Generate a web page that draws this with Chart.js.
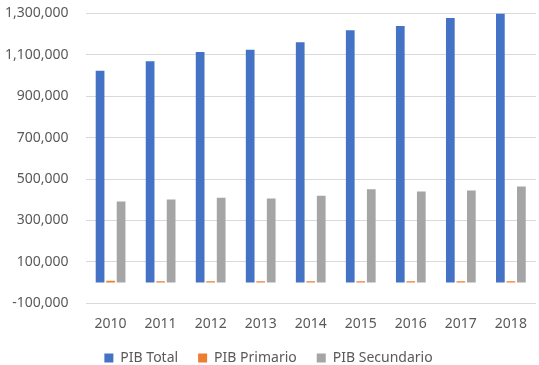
<!DOCTYPE html>
<html lang="es">
<head>
    <script src="https://cdn.jsdelivr.net/npm/chart.js"></script>
    <style>
        body { margin: 0; background: #fff; }
        #wrap { width: 539px; height: 365px; }
    </style>
</head>
<body>
    <div id="wrap"><canvas id="pibChart"></canvas></div>

    <script>
        // data
        const years = ['2010', '2011', '2012', '2013', '2014', '2015', '2016', '2017', '2018'];
        const pibTotal = [1023000, 1069000, 1113000, 1124000, 1161000, 1218000, 1239000, 1278000, 1299000];
        const pibPrimario = [8000, 6000, 6000, 6000, 6000, 6000, 6000, 6000, 6000];
        const pibSecundario = [391000, 401000, 410000, 406000, 419000, 450000, 440000, 445000, 464000];
        const yTicks = [-100000, 100000, 300000, 500000, 700000, 900000, 1100000, 1300000];

        const font = { family: 'Noto Sans', size: 14 };
        const ctx = document.getElementById('pibChart').getContext('2d');

        new Chart(ctx, {
            type: 'bar',
            data: {
                labels: years,
                datasets: [
                    { label: 'PIB Total', data: pibTotal, backgroundColor: '#4472c4' },
                    { label: 'PIB Primario', data: pibPrimario, backgroundColor: '#ed7d31' },
                    { label: 'PIB Secundario', data: pibSecundario, backgroundColor: '#a5a5a5' }
                ]
            },
            options: {
                responsive: true,
                maintainAspectRatio: false,
                animation: false,
                barPercentage: 0.83,
                categoryPercentage: 0.63,
                layout: { padding: { top: 0, right: 2, left: 0, bottom: 0 } },
                scales: {
                    x: {
                        grid: { display: false, drawTicks: false },
                        border: { display: false },
                        ticks: { color: '#595959', font: font, padding: 12 },
                        // pull the plot down closer to the legend
                        afterFit: axis => { axis.height -= 13; }
                    },
                    y: {
                        min: yTicks[0],
                        max: yTicks[yTicks.length - 1],
                        afterBuildTicks: axis => { axis.ticks = yTicks.map(v => ({ value: v })); },
                        grid: { color: '#d9d9d9', tickLength: 12, tickColor: 'rgba(0,0,0,0)' },
                        border: { display: false },
                        ticks: {
                            color: '#595959',
                            font: font,
                            padding: 5,
                            callback: v => v.toLocaleString('en-US')
                        }
                    }
                },
                plugins: {
                    legend: {
                        position: 'bottom',
                        maxHeight: 34,
                        labels: {
                            color: '#595959',
                            font: font,
                            boxWidth: 9,
                            boxHeight: 9,
                            padding: 20
                        }
                    },
                    tooltip: { enabled: false }
                }
            }
        });
    </script>
</body>
</html>
